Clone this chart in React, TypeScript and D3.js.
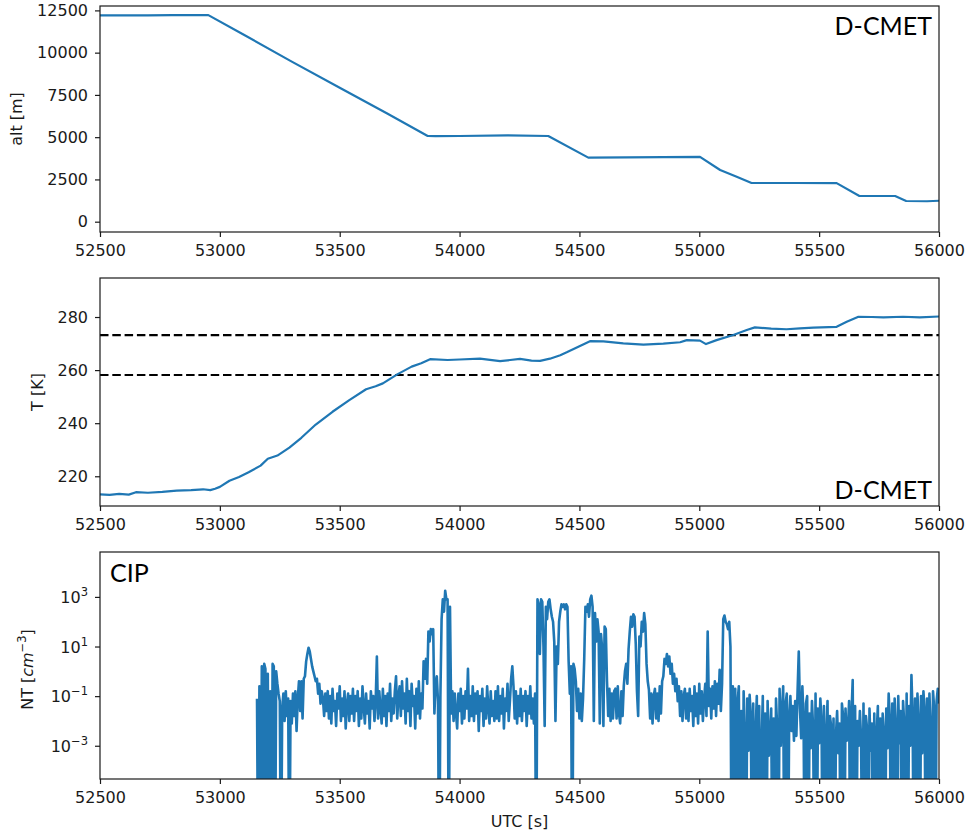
import React, { useEffect, useRef } from 'react';
import * as d3 from 'd3';

// x axis (UTC seconds)
const xTicks = [52500, 53000, 53500, 54000, 54500, 55000, 55500, 56000];
const altTicks = [0, 2500, 5000, 7500, 10000, 12500];
const tempTicks = [220, 240, 260, 280];
const ntTickExps = [-3, -1, 1, 3];
const refTemps = [273.15, 258.15];

// D-CMET altitude [m]
const altTime = [52500, 52600, 52700, 52800, 52952, 53100, 53300, 53500, 53700, 53867, 53900, 54000, 54200, 54370,
  54537, 54700, 54850, 55003, 55087, 55156, 55218, 55400, 55573, 55668, 55817, 55863, 55950, 56000];
const altValue = [12200, 12205, 12210, 12215, 12220, 11060, 9470, 7920, 6390, 5070, 5060, 5070, 5110, 5070,
  3790, 3810, 3820, 3830, 3060, 2660, 2290, 2290, 2280, 1520, 1520, 1225, 1210, 1240];

// D-CMET temperature [K]
const tempTime = [52500, 52540, 52580, 52620, 52650, 52700, 52760, 52820, 52880, 52930, 52960, 52980, 53000, 53040,
  53080, 53120, 53170, 53200, 53240, 53290, 53340, 53400, 53470, 53540, 53610, 53650, 53680, 53740, 53800, 53840,
  53877, 53950, 54000, 54085, 54169, 54252, 54300, 54336, 54377, 54420, 54447, 54500, 54544, 54600, 54683, 54767,
  54850, 54920, 54948, 55003, 55028, 55072, 55142, 55198, 55232, 55300, 55364, 55420, 55476, 55573, 55615, 55664,
  55720, 55768, 55850, 55920, 56000];
const tempValue = [213.2, 213.0, 213.4, 213.1, 214.0, 213.8, 214.1, 214.6, 214.8, 215.1, 214.8, 215.3, 216.0, 218.3,
  219.7, 221.5, 224.0, 226.6, 227.8, 230.8, 234.5, 239.5, 244.3, 248.7, 252.8, 253.9, 255.0, 258.4, 261.3, 262.6,
  264.1, 263.8, 264.0, 264.3, 263.4, 264.2, 263.6, 263.5, 264.3, 265.6, 266.7, 269.0, 270.9, 270.8, 270.1, 269.6,
  270.0, 270.5, 271.3, 271.1, 269.8, 271.3, 273.2, 275.1, 276.1, 275.6, 275.4, 275.7, 276.0, 276.3, 278.2, 280.1,
  280.0, 279.9, 280.1, 279.9, 280.2];

// CIP number concentration, log10(NT [cm^-3]); 5 s samples, one row per 100 s from 53150.
// -9 = no particles counted (line drops off the axis)
const cipStart = 53150;
const cipStep = 5;
const cipRows: number[][] = [
  [NaN, -1.1, -9, -0.6, -9, 0.2, -9, 0.3, 0.1, -9, -0.1, -9, -0.8, -9, 0.3, 0.2, -9, 0.0, -0.5, -0.9],
  [-1.2, -9, -1.5, -0.9, -2.0, -0.8, -1.8, -1.1, -9, -1.2, -2.1, -0.9, -1.8, -0.8, -2.4, -1.1, -0.4, -1.6, -0.4, -1.9],
  [-0.3, -0.2, 0.4, 0.7, 0.95, 0.8, 0.5, 0.2, 0.0, -0.2, -0.4, -0.3, -0.9, -0.5, -1.3, -0.8, -1.1, -1.8, -0.9, -1.6],
  [-0.8, -1.9, -1.0, -2.1, -0.7, -1.6, -1.2, -2.2, -0.9, -1.5, -0.6, -2.0, -1.1, -1.8, -0.8, -2.3, -1.3, -0.9, -2.0, -1.0],
  [-1.7, -0.7, -2.0, -1.0, -1.6, -0.8, -2.2, -1.1, -1.9, -0.6, -1.4, -2.1, -0.9, -1.7, -1.2, -2.3, -0.8, -1.5, -1.0, -2.0],
  [-1.2, 0.6, -1.9, -0.8, -1.5, -2.1, -0.7, -1.8, -1.0, -2.2, -0.9, -1.6, -0.5, -2.0, -1.1, -1.7, -0.8, -0.2, -1.9, -1.0],
  [-0.6, -1.8, -0.4, -1.5, -0.9, -2.1, -0.3, -1.6, -0.8, -2.2, -0.5, -1.4, -1.0, -2.3, -0.7, -1.7, -0.4, -1.9, -0.9, -1.5],
  [0.4, -0.3, 0.5, -0.5, 1.6, 1.2, 1.7, 1.5, 1.7, -1.7, -0.5, -0.2, -1.2, -9, -1.0, 2.1, 2.9, 2.4, 3.25, 2.9],
  [2.9, -9, 2.6, -1.7, -0.8, -2.0, -0.9, -1.7, -2.3, -0.9, -1.6, -0.7, -2.1, -1.0, -1.9, -0.8, -1.5, 0.1, -2.0, -1.0],
  [-1.8, -0.6, -2.0, -0.9, -1.7, -0.8, -2.4, -1.0, -1.6, -0.7, -2.2, -1.1, -1.9, -0.6, -1.5, -2.1, -0.8, -1.8, -1.2, -2.0],
  [-0.8, -1.9, -0.6, -2.0, -1.0, -1.7, -0.7, -2.3, -1.1, -1.6, -0.5, -2.0, -1.2, -0.3, 0.2, -0.6, -1.9, -0.8, -2.1, -1.0],
  [-1.8, -0.7, -2.0, -1.0, -1.6, -0.8, -2.2, -1.0, -1.7, -0.6, -1.9, -1.1, -2.1, -0.9, -9, 2.9, 2.7, 0.7, 2.9, 2.8],
  [1.0, -2.2, 2.6, 2.1, 2.8, 2.9, 2.5, 2.2, 2.0, 1.2, -2.0, 1.0, 0.3, 2.0, 2.4, 2.7, 2.6, 2.7, 2.5, 2.7],
  [2.6, 0.4, -0.9, 0.2, -9, 0.3, 0.1, -0.4, -1.6, -0.7, -1.9, -0.9, -2.0, -1.1, 0.5, 2.6, 2.4, 2.7, 2.2, 2.9],
  [3.05, 2.6, -2.0, 2.35, 1.2, 2.1, 1.6, -2.1, 1.5, 0.9, -2.2, 1.8, 1.7, -0.4, -1.8, -0.7, -2.0, -0.9, -1.9, -0.8],
  [-0.7, -1.9, -0.6, -1.7, -2.1, -0.8, -1.8, -0.6, 0.0, 0.3, -0.5, 0.9, 1.6, 2.2, 1.8, 2.3, 2.2, 1.1, -0.8, -1.8],
  [1.4, 1.0, 2.0, 1.6, 2.35, 1.9, 0.3, -0.4, -0.75, -1.9, -0.9, -2.1, -1.0, -0.7, -1.9, -0.9, -2.0, -0.6, -1.7, -0.4],
  [-0.2, 0.5, 0.3, 0.7, 0.2, 0.6, -0.1, 0.3, -0.5, -0.1, -0.8, -0.3, -1.2, -0.6, -1.8, -0.8, -2.0, -1.0, -0.7, -1.9],
  [-0.9, -2.0, -0.7, -1.6, -1.0, -2.2, -0.6, -1.8, -0.9, -2.1, -0.5, -1.7, -0.8, -2.0, -1.1, -0.5, -1.8, 1.6, -1.4, -0.7],
  [-1.9, -0.6, -1.5, -0.4, -1.8, -0.5, -1.3, 0.06, -1.6, -0.5, 2.1, 2.25, 2.0, 1.9, 1.7, 2.0, 1.0, -9, -0.6, -9],
  [-0.7, -9, -1.2, -0.6, -9, -1.6, -9, -0.8, -2.6, -9, -1.1, -3.2, -0.95, -1.8, -9, -1.3, -9, -2.4, -1.0, -9],
  [-1.4, -9, -2.9, -1.0, -9, -1.7, -9, -1.2, -3.4, -2.6, -1.5, -9, -1.9, -9, -1.1, -2.3, -9, -0.7, -3.0, -1.6],
  [-0.6, -9, -1.3, -0.9, -9, -1.8, -1.0, -2.4, -1.4, -2.8, -1.2, -2.6, -0.8, 0.8, -1.5, -2.7, -0.6, -1.9, -9, -1.3],
  [-1.0, -9, -1.7, -3.1, -1.2, -2.3, -9, -0.9, -9, -1.5, -2.9, -1.1, -2.0, -9, -1.4, -9, -2.5, -1.2, -9, -1.8],
  [-2.2, -9, -1.9, -9, -2.6, -1.6, -3.3, -2.1, -9, -1.3, -1.8, -9, -1.5, -2.8, -2.4, -1.2, -9, -1.7, -0.35, -9],
  [-1.4, -9, -2.0, -3.0, -1.6, -2.7, -9, -1.3, -9, -1.8, -2.3, -9, -1.5, -3.2, -2.1, -9, -1.7, -9, -2.5, -1.4],
  [-9, -1.9, -9, -1.7, -2.4, -9, -1.5, -3.1, -0.9, -2.0, -9, -1.3, -9, -1.1, -2.2, -9, -1.0, -2.9, -1.6, -9],
  [-1.2, -2.1, -9, -0.9, -9, -1.4, -3.0, -0.15, -1.8, -9, -1.1, -9, -0.9, -2.0, -9, -1.0, -3.3, -0.8, -1.6, -9],
  [-1.1, -9, -0.9, -2.2, -9, -0.8, -1.5, -9, -1.2, -0.7, -1.3],
];

const supChars: Record<string, string> = { '-': '\u2212' };

export default function App() {
  const svgRef = useRef<SVGSVGElement>(null);

  useEffect(() => {
    document.body.style.margin = '0';
    const svg = d3.select(svgRef.current);
    svg.selectAll('*').remove();

    const left = 100;
    const right = 939;
    const panels = [
      { top: 6, bottom: 232 },
      { top: 278, bottom: 506 },
      { top: 552, bottom: 779 },
    ];
    const blue = '#1f77b4';
    const ink = '#1a1a1a';
    const tickFont = 'DejaVu Sans, sans-serif';

    const x = d3.scaleLinear().domain([52500, 56000]).range([left, right]);
    const yAlt = d3.scaleLinear().domain([-610, 12760]).range([panels[0].bottom, panels[0].top]);
    const yT = d3.scaleLinear().domain([208.8, 294.7]).range([panels[1].bottom, panels[1].top]);
    const yNT = d3.scaleLog().domain([Math.pow(10, -4.34), Math.pow(10, 4.81)]).range([panels[2].bottom, panels[2].top]);

    const defs = svg.append('defs');
    panels.forEach((p, i) => {
      defs.append('clipPath').attr('id', `clip${i}`)
        .append('rect')
        .attr('x', left).attr('y', p.top)
        .attr('width', right - left).attr('height', p.bottom - p.top);
    });

    const styleAxis = (g: any) => {
      g.select('.domain').remove();
      g.selectAll('.tick line').attr('stroke', ink).attr('stroke-width', 1.2);
      g.selectAll('.tick text').attr('fill', ink).attr('font-size', 16).attr('font-family', tickFont);
    };

    // x axes for every panel
    panels.forEach(p => {
      svg.append('g')
        .attr('transform', `translate(0,${p.bottom})`)
        .call(d3.axisBottom(x).tickValues(xTicks).tickSize(5).tickPadding(8).tickFormat(d3.format('d')))
        .call(styleAxis);
    });

    svg.append('g')
      .attr('transform', `translate(${left},0)`)
      .call(d3.axisLeft(yAlt).tickValues(altTicks).tickSize(5).tickPadding(7).tickFormat(d3.format('d')))
      .call(styleAxis);

    svg.append('g')
      .attr('transform', `translate(${left},0)`)
      .call(d3.axisLeft(yT).tickValues(tempTicks).tickSize(5).tickPadding(7).tickFormat(d3.format('d')))
      .call(styleAxis);

    const ntAxis = svg.append('g')
      .attr('transform', `translate(${left},0)`)
      .call(d3.axisLeft(yNT).tickValues(ntTickExps.map(e => Math.pow(10, e))).tickSize(5).tickPadding(7).tickFormat(() => ''))
      .call(styleAxis);
    ntAxis.selectAll('.tick text').remove();
    ntTickExps.forEach(e => {
      const t = svg.append('text')
        .attr('x', left - 12)
        .attr('y', yNT(Math.pow(10, e)) + 6)
        .attr('text-anchor', 'end')
        .attr('font-family', tickFont)
        .attr('font-size', 16)
        .attr('fill', ink);
      t.append('tspan').text('10');
      t.append('tspan')
        .attr('font-size', 11.5)
        .attr('dy', -7)
        .text(String(e).split('').map(c => supChars[c] || c).join(''));
    });

    // lines
    const altLine = d3.line<number>().x((d, i) => x(altTime[i])).y(d => yAlt(d));
    svg.append('path')
      .datum(altValue)
      .attr('clip-path', 'url(#clip0)')
      .attr('fill', 'none')
      .attr('stroke', blue)
      .attr('stroke-width', 2.2)
      .attr('stroke-linejoin', 'round')
      .attr('d', altLine);

    refTemps.forEach(v => {
      svg.append('line')
        .attr('x1', left).attr('x2', right)
        .attr('y1', yT(v)).attr('y2', yT(v))
        .attr('stroke', '#000')
        .attr('stroke-width', 2.2)
        .attr('stroke-dasharray', '8.5,3.8');
    });

    const tempLine = d3.line<number>().x((d, i) => x(tempTime[i])).y(d => yT(d));
    svg.append('path')
      .datum(tempValue)
      .attr('clip-path', 'url(#clip1)')
      .attr('fill', 'none')
      .attr('stroke', blue)
      .attr('stroke-width', 2.2)
      .attr('stroke-linejoin', 'round')
      .attr('d', tempLine);

    const cipPoints: [number, number][] = [];
    cipRows.forEach((row, k) => {
      row.forEach((v, j) => cipPoints.push([cipStart + 100 * k + cipStep * j, v]));
    });
    const cipLine = d3.line<[number, number]>()
      .defined(d => !isNaN(d[1]))
      .x(d => x(d[0]))
      .y(d => yNT(Math.pow(10, d[1])));
    svg.append('path')
      .datum(cipPoints)
      .attr('clip-path', 'url(#clip2)')
      .attr('fill', 'none')
      .attr('stroke', blue)
      .attr('stroke-width', 2.6)
      .attr('stroke-linejoin', 'round')
      .attr('d', cipLine);

    // frames
    panels.forEach(p => {
      svg.append('rect')
        .attr('x', left).attr('y', p.top)
        .attr('width', right - left).attr('height', p.bottom - p.top)
        .attr('fill', 'none')
        .attr('stroke', ink)
        .attr('stroke-width', 1.2);
    });

    // axis labels
    const yLabel = (cx: number, cy: number) => svg.append('text')
      .attr('transform', `translate(${cx},${cy}) rotate(-90)`)
      .attr('text-anchor', 'middle')
      .attr('font-family', tickFont)
      .attr('font-size', 16)
      .attr('fill', ink);

    yLabel(22, (panels[0].top + panels[0].bottom) / 2).text('alt [m]');
    yLabel(43, (panels[1].top + panels[1].bottom) / 2).text('T [K]');
    const nt = yLabel(33, (panels[2].top + panels[2].bottom) / 2 + 4);
    nt.append('tspan').text('NT [');
    nt.append('tspan').attr('font-style', 'italic').text('cm');
    nt.append('tspan').attr('font-size', 11.5).attr('dy', -7).text('\u22123');
    nt.append('tspan').attr('dy', 7).text(']');

    svg.append('text')
      .attr('x', (left + right) / 2)
      .attr('y', 827)
      .attr('text-anchor', 'middle')
      .attr('font-family', tickFont)
      .attr('font-size', 16)
      .attr('fill', ink)
      .text('UTC [s]');

    // instrument tags
    const tag = (tx: number, ty: number, anchor: string, label: string) => svg.append('text')
      .attr('x', tx).attr('y', ty)
      .attr('text-anchor', anchor)
      .attr('font-family', 'Lato, Carlito, sans-serif')
      .attr('font-size', 25)
      .attr('fill', '#000')
      .text(label);
    tag(932, 35, 'end', 'D-CMET');
    tag(932, 499, 'end', 'D-CMET');
    tag(110, 582, 'start', 'CIP');
  }, []);

  return <svg ref={svgRef} width={965} height={833} style={{ display: 'block', background: '#fff' }} />;
}
